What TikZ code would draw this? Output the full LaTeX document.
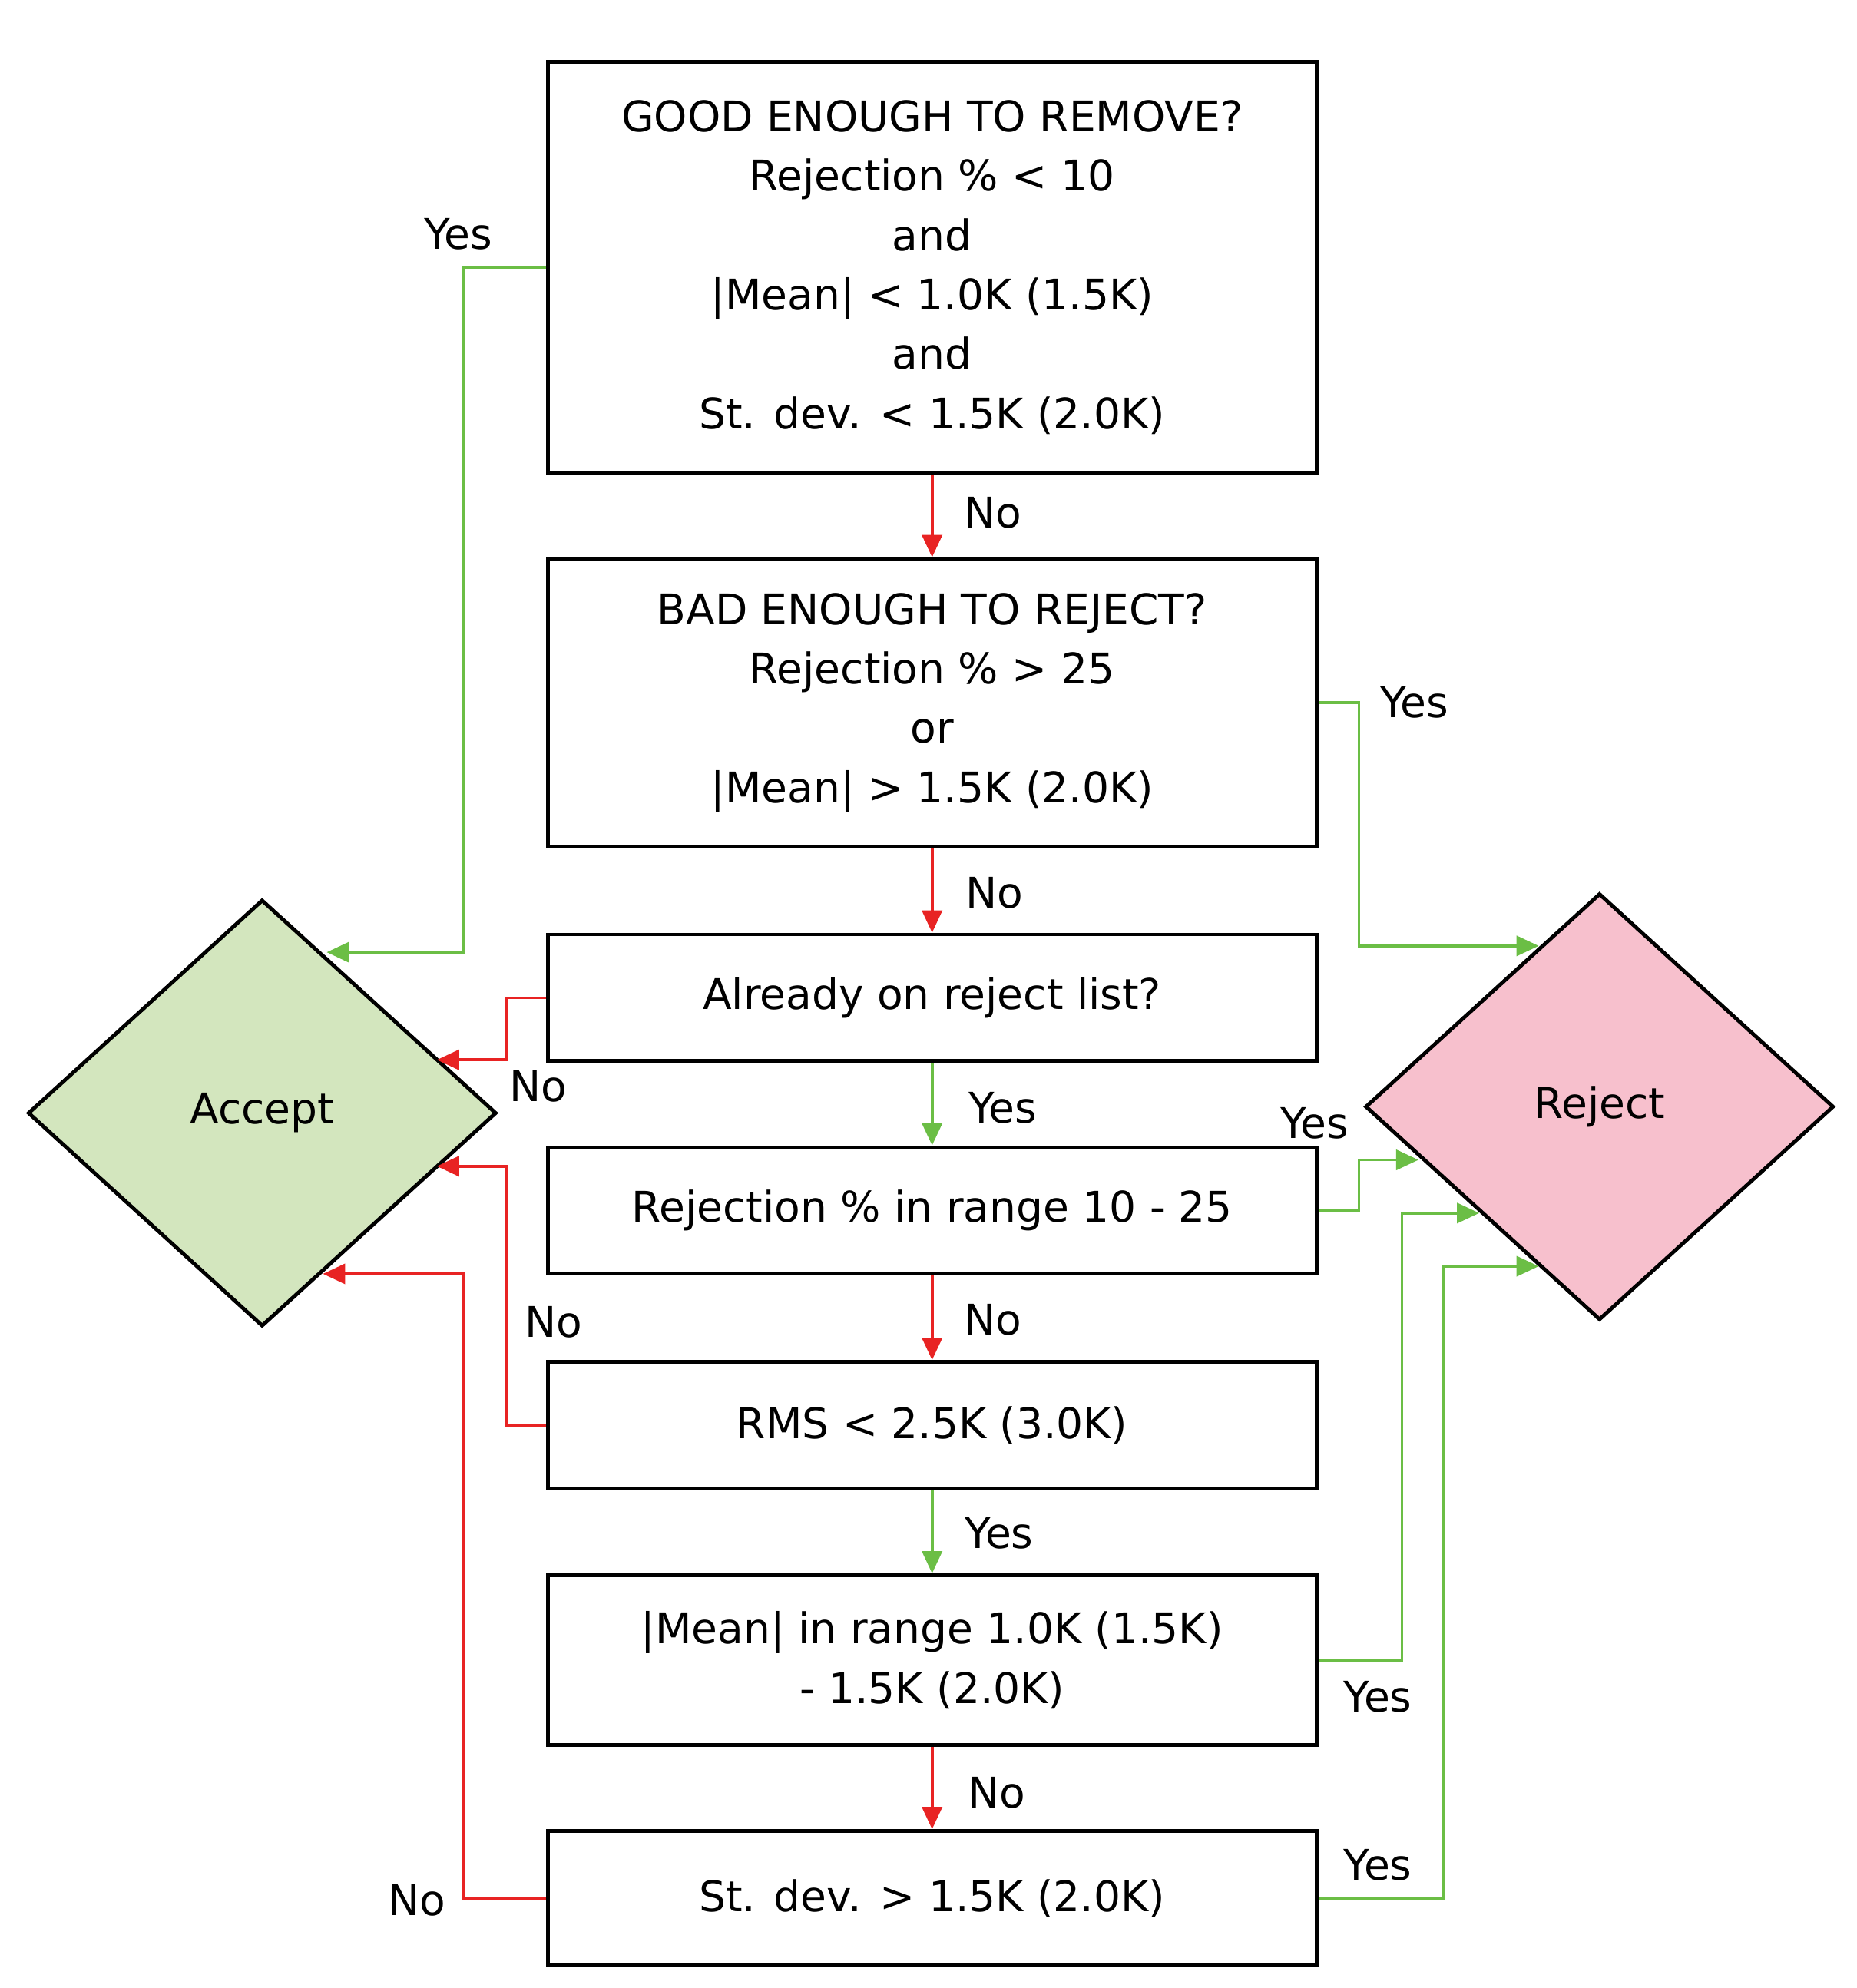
\documentclass[tikz,border=0pt]{standalone}
\usepackage{fontspec}
\setmainfont{DejaVu Sans}
\usetikzlibrary{shapes.geometric,arrows.meta}
\definecolor{gr}{RGB}{107,190,69}
\definecolor{rd}{RGB}{232,35,35}
\definecolor{accf}{RGB}{211,230,190}
\definecolor{rejf}{RGB}{247,192,205}
\begin{document}
\begin{tikzpicture}[x=0.02cm,y=-0.02cm,
  box/.style={draw,line width=1.7pt,minimum width=12.14cm,align=center,inner sep=0pt,font=\fontsize{19}{26.7}\selectfont},
  dia/.style={draw,line width=1.7pt,diamond,minimum width=7.4cm,minimum height=6.74cm,inner sep=0pt,font=\fontsize{19}{26.7}\selectfont},
  g/.style={gr,line width=1.3pt,-{Triangle[length=10pt,width=9pt]}},
  r/.style={rd,line width=1.3pt,-{Triangle[length=10pt,width=9pt]}},
  lab/.style={font=\fontsize{19}{22}\selectfont}]
\useasboundingbox (0,0) rectangle (1466,1570);
\node[box,minimum height=6.48cm] (b1) at (736,211) {GOOD ENOUGH TO REMOVE?\\Rejection \% < 10\\and\\|Mean| < 1.0K (1.5K)\\and\\St. dev. < 1.5K (2.0K)};
\node[box,minimum height=4.54cm] (b2) at (736,555) {BAD ENOUGH TO REJECT?\\Rejection \% > 25\\or\\|Mean| > 1.5K (2.0K)};
\node[box,minimum height=2cm] (b3) at (736,788) {Already on reject list?};
\node[box,minimum height=2cm] (b4) at (736,956) {Rejection \% in range 10 - 25};
\node[box,minimum height=2cm] (b5) at (736,1125.5) {RMS < 2.5K (3.0K)};
\node[box,minimum height=2.68cm] (b6) at (736,1311) {|Mean| in range 1.0K (1.5K)\\- 1.5K (2.0K)};
\node[box,minimum height=2.12cm] (b7) at (736,1499) {St. dev. > 1.5K (2.0K)};
\node[dia,fill=accf] (acc) at (207,879) {Accept};
\node[dia,fill=rejf] (rej) at (1263,874) {Reject};
\coordinate (a1) at (258,752);
\coordinate (a2) at (345,837);
\coordinate (a3) at (345,921);
\coordinate (a4) at (255,1006);
\coordinate (r1) at (1215,747);
\coordinate (r2) at (1120,916);
\coordinate (r3) at (1168,958);
\coordinate (r4) at (1215,1000);
\draw[r] (b1) -- (b2);
\draw[r] (b2) -- (b3);
\draw[g] (b3) -- (b4);
\draw[r] (b4) -- (b5);
\draw[g] (b5) -- (b6);
\draw[r] (b6) -- (b7);
\draw[g] (b1.west |- 0,211) -- (366,211) |- (a1);
\draw[g] (b2.east |- 0,555) -- (1073,555) |- (r1);
\draw[r] (b3.west) -- (400,788) |- (a2);
\draw[g] (b4.east) -- (1073,956) |- (r2);
\draw[r] (b5.west) -- (400,1125.5) |- (a3);
\draw[g] (b6.east) -- (1107,1311) |- (r3);
\draw[r] (b7.west) -- (366,1499) |- (a4);
\draw[g] (b7.east) -- (1140,1499) |- (r4);
\node[lab] (l1) at (362,185) {Yes};
\node[lab] (l2) at (784,405) {No};
\node[lab] (l3) at (1117,555) {Yes};
\node[lab] (l4) at (785,705) {No};
\node[lab] (l5) at (425,858) {No};
\node[lab] (l6) at (792,875) {Yes};
\node[lab] (l7) at (1038,887) {Yes};
\node[lab] (l8) at (784,1042) {No};
\node[lab] (l9) at (437,1044) {No};
\node[lab] (l10) at (789,1211) {Yes};
\node[lab] (l11) at (1088,1340) {Yes};
\node[lab] (l12) at (787,1416) {No};
\node[lab] (l13) at (329,1501) {No};
\node[lab] (l14) at (1088,1473) {Yes};
\end{tikzpicture}
\end{document}
